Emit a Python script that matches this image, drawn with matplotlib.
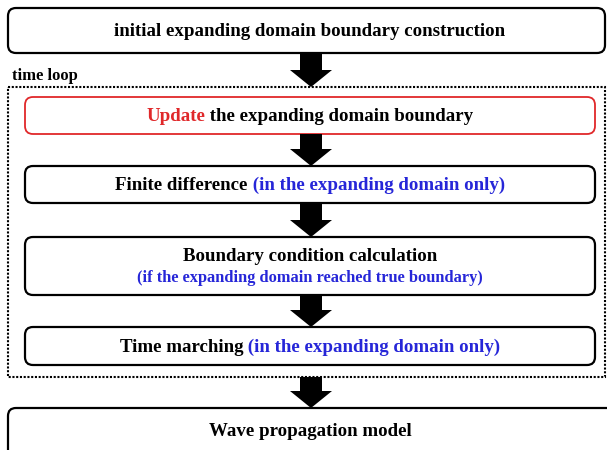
import matplotlib.pyplot as plt
from matplotlib.patches import FancyBboxPatch, Rectangle

RED = '#e0282a'
BLUE = '#2626d8'
FONT = 'Liberation Serif'

# text of each step, as lines of (text, colour) pieces
step_lines = [
    [[("initial expanding domain boundary construction", 'black')]],
    [[("Update", RED), (" the expanding domain boundary", 'black')]],
    [[("Finite difference", 'black'), (" (in the expanding domain only)", BLUE)]],
    [[("Boundary condition calculation", 'black')],
     [("(if the expanding domain reached true boundary)", BLUE)]],
    [[("Time marching", 'black'), (" (in the expanding domain only)", BLUE)]],
    [[("Wave propagation model", 'black')]],
]
step_edge = ['black', RED, 'black', 'black', 'black', 'black']
loop_label = "time loop"

# layout in pixels (y from the top)
box_x = [(8, 605), (25, 595), (25, 595), (25, 595), (25, 595), (8, 615)]
box_y = [(8, 53), (97, 134), (166, 203), (237, 295), (327, 365), (408, 470)]
line_sizes = [[13.6], [13.6], [13.6], [13.6, 11.8], [13.6], [13.6]]
line_gap = 21
loop_box = (8, 87, 605, 377)
arrow_spans = [(53, 87), (134, 166), (203, 237), (295, 327), (377, 408)]
cx = 311

fig = plt.figure(figsize=(6.07, 4.5), dpi=100)
ax = fig.add_axes([0, 0, 1, 1])
ax.set_xlim(0, 607)
ax.set_ylim(450, 0)
ax.axis('off')
renderer = fig.canvas.get_renderer()


def text_width(s, size):
    t = ax.text(0, 0, s, fontsize=size, family=FONT, fontweight='bold')
    w = t.get_window_extent(renderer).width
    t.remove()
    return w


def draw_line(pieces, y, size):
    widths = [text_width(s, size) for s, c in pieces]
    x = 310 - sum(widths) / 2
    for (s, c), w in zip(pieces, widths):
        ax.text(x, y, s, fontsize=size, family=FONT, fontweight='bold',
                color=c, ha='left', va='center')
        x += w


def draw_arrow(y0, y1, shaft=22, head=42, head_len=17):
    ys = y1 - head_len
    pts = [(cx - shaft / 2, y0), (cx + shaft / 2, y0), (cx + shaft / 2, ys),
           (cx + head / 2, ys), (cx, y1), (cx - head / 2, ys), (cx - shaft / 2, ys)]
    ax.fill([p[0] for p in pts], [p[1] for p in pts], color='black', lw=0, zorder=3)


for lines, edge, (x0, x1), (y0, y1), sizes in zip(step_lines, step_edge, box_x, box_y, line_sizes):
    box = FancyBboxPatch((x0, y0), x1 - x0, y1 - y0,
                         boxstyle="round,pad=0,rounding_size=8",
                         fc='white', ec=edge, lw=1.6 if edge == 'black' else 1.3, zorder=2)
    ax.add_patch(box)
    yc = (y0 + y1) / 2 + 1 if y1 < 455 else 432
    n = len(lines)
    for i, (pieces, size) in enumerate(zip(lines, sizes)):
        y = yc + (i - (n - 1) / 2) * line_gap
        draw_line(pieces, y, size)

lx0, ly0, lx1, ly1 = loop_box
ax.add_patch(Rectangle((lx0, ly0), lx1 - lx0, ly1 - ly0, fill=False, ec='black',
                       lw=1.5, linestyle=(0, (1, 0.8)), zorder=1))
ax.text(12, 76, loop_label, fontsize=12, family=FONT, fontweight='bold',
        ha='left', va='center')

for y0, y1 in arrow_spans:
    draw_arrow(y0, y1)

fig.savefig('out.png', dpi=100)
